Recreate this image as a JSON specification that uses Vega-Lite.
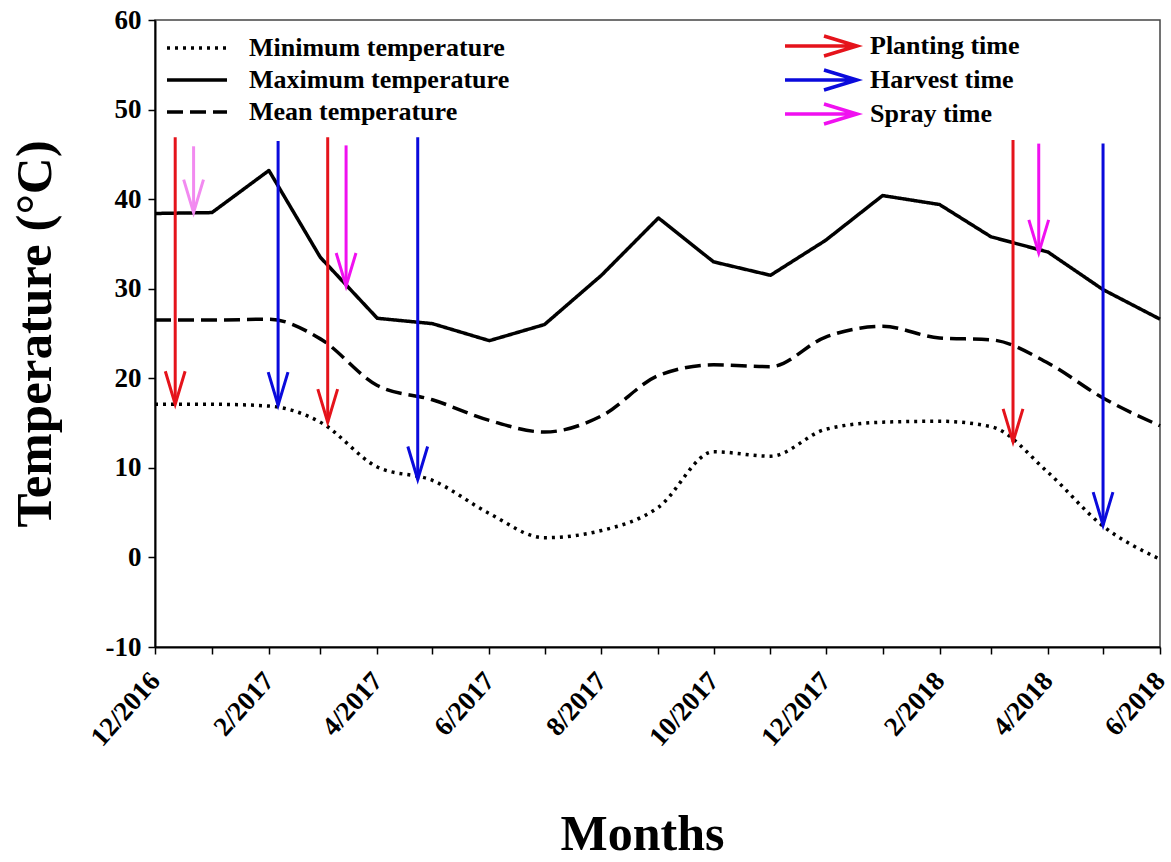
{
  "$schema": "https://vega.github.io/schema/vega-lite/v6.json",
  "width": 1005,
  "height": 627,
  "autosize": {"type": "none"},
  "padding": {"left": 155, "top": 20, "right": 11, "bottom": 215},
  "background": "white",
  "config": {
    "font": "Liberation Serif",
    "view": {"stroke": "#444", "strokeWidth": 1.5},
    "style": {"guide-label": {"font": "Liberation Serif", "fontWeight": "bold", "fill": "black"}, "guide-title": {"font": "Liberation Serif", "fontWeight": "bold", "fill": "black"}},
    "axis": {
      "labelFont": "Liberation Serif", "labelFontWeight": "bold", "labelFontSize": 25, "labelColor": "black",
      "titleFont": "Liberation Serif", "titleFontWeight": "bold", "titleColor": "black",
      "domainColor": "black", "domainWidth": 2, "tickColor": "black", "tickWidth": 1.5, "tickSize": 7, "grid": false
    },
    "legend": {"labelFont": "Liberation Serif", "labelFontWeight": "bold", "labelFontSize": 26, "labelColor": "black", "labelLimit": 500, "padding": 0}
  },
  "datasets": {
    "temps": [
      {"date": "2016-12-01", "type": "Maximum temperature", "t": 38.4},
      {"date": "2017-01-01", "type": "Maximum temperature", "t": 38.5},
      {"date": "2017-02-01", "type": "Maximum temperature", "t": 43.2},
      {"date": "2017-03-01", "type": "Maximum temperature", "t": 33.5},
      {"date": "2017-04-01", "type": "Maximum temperature", "t": 26.7},
      {"date": "2017-05-01", "type": "Maximum temperature", "t": 26.1},
      {"date": "2017-06-01", "type": "Maximum temperature", "t": 24.2},
      {"date": "2017-07-01", "type": "Maximum temperature", "t": 26.0},
      {"date": "2017-08-01", "type": "Maximum temperature", "t": 31.5},
      {"date": "2017-09-01", "type": "Maximum temperature", "t": 37.9},
      {"date": "2017-10-01", "type": "Maximum temperature", "t": 33.0},
      {"date": "2017-11-01", "type": "Maximum temperature", "t": 31.5},
      {"date": "2017-12-01", "type": "Maximum temperature", "t": 35.4},
      {"date": "2018-01-01", "type": "Maximum temperature", "t": 40.4},
      {"date": "2018-02-01", "type": "Maximum temperature", "t": 39.4},
      {"date": "2018-03-01", "type": "Maximum temperature", "t": 35.8},
      {"date": "2018-04-01", "type": "Maximum temperature", "t": 34.1},
      {"date": "2018-05-01", "type": "Maximum temperature", "t": 29.9},
      {"date": "2018-06-01", "type": "Maximum temperature", "t": 26.6},
      {"date": "2016-12-01", "type": "Mean temperature", "t": 26.5},
      {"date": "2017-01-01", "type": "Mean temperature", "t": 26.5},
      {"date": "2017-02-01", "type": "Mean temperature", "t": 26.6},
      {"date": "2017-03-01", "type": "Mean temperature", "t": 24.4},
      {"date": "2017-04-01", "type": "Mean temperature", "t": 19.2},
      {"date": "2017-05-01", "type": "Mean temperature", "t": 17.6},
      {"date": "2017-06-01", "type": "Mean temperature", "t": 15.3},
      {"date": "2017-07-01", "type": "Mean temperature", "t": 14.0},
      {"date": "2017-08-01", "type": "Mean temperature", "t": 15.8},
      {"date": "2017-09-01", "type": "Mean temperature", "t": 20.3},
      {"date": "2017-10-01", "type": "Mean temperature", "t": 21.5},
      {"date": "2017-11-01", "type": "Mean temperature", "t": 21.3},
      {"date": "2017-12-01", "type": "Mean temperature", "t": 24.6},
      {"date": "2018-01-01", "type": "Mean temperature", "t": 25.8},
      {"date": "2018-02-01", "type": "Mean temperature", "t": 24.5},
      {"date": "2018-03-01", "type": "Mean temperature", "t": 24.3},
      {"date": "2018-04-01", "type": "Mean temperature", "t": 21.7},
      {"date": "2018-05-01", "type": "Mean temperature", "t": 17.8},
      {"date": "2018-06-01", "type": "Mean temperature", "t": 14.7},
      {"date": "2016-12-01", "type": "Minimum temperature", "t": 17.1},
      {"date": "2017-01-01", "type": "Minimum temperature", "t": 17.1},
      {"date": "2017-02-01", "type": "Minimum temperature", "t": 16.9},
      {"date": "2017-03-01", "type": "Minimum temperature", "t": 15.1},
      {"date": "2017-04-01", "type": "Minimum temperature", "t": 10.1},
      {"date": "2017-05-01", "type": "Minimum temperature", "t": 8.6},
      {"date": "2017-06-01", "type": "Minimum temperature", "t": 4.9},
      {"date": "2017-07-01", "type": "Minimum temperature", "t": 2.2},
      {"date": "2017-08-01", "type": "Minimum temperature", "t": 3.0},
      {"date": "2017-09-01", "type": "Minimum temperature", "t": 5.6},
      {"date": "2017-10-01", "type": "Minimum temperature", "t": 11.8},
      {"date": "2017-11-01", "type": "Minimum temperature", "t": 11.3},
      {"date": "2017-12-01", "type": "Minimum temperature", "t": 14.3},
      {"date": "2018-01-01", "type": "Minimum temperature", "t": 15.1},
      {"date": "2018-02-01", "type": "Minimum temperature", "t": 15.2},
      {"date": "2018-03-01", "type": "Minimum temperature", "t": 14.6},
      {"date": "2018-04-01", "type": "Minimum temperature", "t": 9.5},
      {"date": "2018-05-01", "type": "Minimum temperature", "t": 3.5},
      {"date": "2018-06-01", "type": "Minimum temperature", "t": -0.2}
    ],
    "events": [
      {"date": "2016-12-12", "event": "Planting time", "top": 46.9, "tip": 17.1},
      {"date": "2016-12-22", "event": "Spray time 2016", "top": 45.9, "tip": 38.5},
      {"date": "2017-02-06", "event": "Harvest time", "top": 46.5, "tip": 17.0},
      {"date": "2017-03-05", "event": "Planting time", "top": 46.9, "tip": 15.1},
      {"date": "2017-03-15", "event": "Spray time", "top": 46.0, "tip": 30.3},
      {"date": "2017-04-23", "event": "Harvest time", "top": 46.9, "tip": 8.7},
      {"date": "2018-03-13", "event": "Planting time", "top": 46.6, "tip": 12.9},
      {"date": "2018-03-27", "event": "Spray time", "top": 46.2, "tip": 34.0},
      {"date": "2018-05-01", "event": "Harvest time", "top": 46.2, "tip": 3.6}
    ]
  },
  "encoding": {
    "x": {
      "field": "date", "type": "temporal",
      "scale": {"type": "utc", "domain": [{"year": 2016, "month": 12, "date": 1, "utc": true}, {"year": 2018, "month": 6, "date": 1, "utc": true}]},
      "axis": {
        "values": [
          {"year": 2016, "month": 12, "date": 1, "utc": true},
          {"year": 2017, "month": 1, "date": 1, "utc": true},
          {"year": 2017, "month": 2, "date": 1, "utc": true},
          {"year": 2017, "month": 3, "date": 1, "utc": true},
          {"year": 2017, "month": 4, "date": 1, "utc": true},
          {"year": 2017, "month": 5, "date": 1, "utc": true},
          {"year": 2017, "month": 6, "date": 1, "utc": true},
          {"year": 2017, "month": 7, "date": 1, "utc": true},
          {"year": 2017, "month": 8, "date": 1, "utc": true},
          {"year": 2017, "month": 9, "date": 1, "utc": true},
          {"year": 2017, "month": 10, "date": 1, "utc": true},
          {"year": 2017, "month": 11, "date": 1, "utc": true},
          {"year": 2017, "month": 12, "date": 1, "utc": true},
          {"year": 2018, "month": 1, "date": 1, "utc": true},
          {"year": 2018, "month": 2, "date": 1, "utc": true},
          {"year": 2018, "month": 3, "date": 1, "utc": true},
          {"year": 2018, "month": 4, "date": 1, "utc": true},
          {"year": 2018, "month": 5, "date": 1, "utc": true},
          {"year": 2018, "month": 6, "date": 1, "utc": true}
        ],
        "labelExpr": "utcmonth(datum.value) % 2 == 1 ? utcFormat(datum.value, '%-m/%Y') : ''",
        "labelFont": "Liberation Serif", "labelFontWeight": "bold",
        "labelAngle": -48, "labelAlign": "right", "labelBaseline": "middle",
        "labelFontSize": 27, "labelPadding": 22, "labelOverlap": false, "labelFlush": false,
        "titleFont": "Liberation Serif", "titleFontSize": 50, "titlePadding": 59, "titleX": 487
      },
      "title": "Months"
    }
  },
  "layer": [
    {
      "data": {"name": "temps"},
      "transform": [{"filter": "datum.type == 'Maximum temperature'"}],
      "mark": {"type": "line", "color": "black", "strokeWidth": 3.5, "strokeJoin": "round"},
      "encoding": {
        "y": {"field": "t", "type": "quantitative", "scale": {"domain": [-10, 60]}, "axis": {"values": [-10, 0, 10, 20, 30, 40, 50, 60], "labelExpr": "datum.value < 0 ? '-' + abs(datum.value) : '' + datum.value", "labelFont": "Liberation Serif", "labelFontWeight": "bold", "labelFontSize": 27, "labelPadding": 7, "titleFont": "Liberation Serif", "titleFontSize": 51, "titlePadding": 44}, "title": "Temperature (°C)"},
        "strokeDash": {
          "field": "type", "type": "nominal",
          "scale": {"domain": ["Minimum temperature", "Maximum temperature", "Mean temperature"], "range": [[3, 5], [1, 0], [16, 7]]},
          "legend": {"title": null, "orient": "none", "legendX": 25, "legendY": 11, "labelFont": "Liberation Serif", "labelFontWeight": "bold", "labelLimit": 500, "symbolType": "M-2,0L2,0", "symbolSize": 900, "symbolStrokeWidth": 3.5, "symbolStrokeColor": "black", "labelOffset": 35}
        }
      }
    },
    {
      "data": {"name": "temps"},
      "transform": [{"filter": "datum.type != 'Maximum temperature'"}],
      "mark": {"type": "line", "color": "black", "strokeWidth": 3.5, "interpolate": "monotone"},
      "encoding": {
        "y": {"field": "t", "type": "quantitative", "title": "Temperature (°C)"},
        "strokeDash": {"field": "type", "type": "nominal"}
      }
    },
    {
      "data": {"name": "events"},
      "mark": {"type": "rule", "strokeWidth": 3},
      "encoding": {
        "y": {"field": "top", "type": "quantitative", "title": "Temperature (°C)"},
        "y2": {"field": "tip"},
        "color": {
          "field": "event", "type": "nominal",
          "scale": {"domain": ["Planting time", "Harvest time", "Spray time", "Spray time 2016"], "range": ["#E5131B", "#0A0ADC", "#F010F0", "#F28AF0"]},
          "legend": {"title": null, "values": ["Planting time", "Harvest time", "Spray time"], "orient": "none", "legendX": 653, "legendY": 13, "labelFont": "Liberation Serif", "labelFontWeight": "bold", "labelLimit": 500, "symbolType": "M-3.6,0L3.6,0M0.3,-1L3.6,0L0.3,1", "symbolSize": 400, "symbolStrokeWidth": 3.5, "symbolStrokeJoin": "round", "symbolFillColor": "transparent", "labelOffset": 36, "rowPadding": 0}
        }
      }
    },
    {
      "data": {"name": "events"},
      "mark": {"type": "point", "shape": "M-0.3,-1L0,0L0.3,-1", "size": 4356, "filled": false, "strokeWidth": 3, "opacity": 1, "strokeJoin": "miter"},
      "encoding": {
        "y": {"field": "tip", "type": "quantitative", "title": "Temperature (°C)"},
        "color": {"field": "event", "type": "nominal"}
      }
    }
  ]
}
